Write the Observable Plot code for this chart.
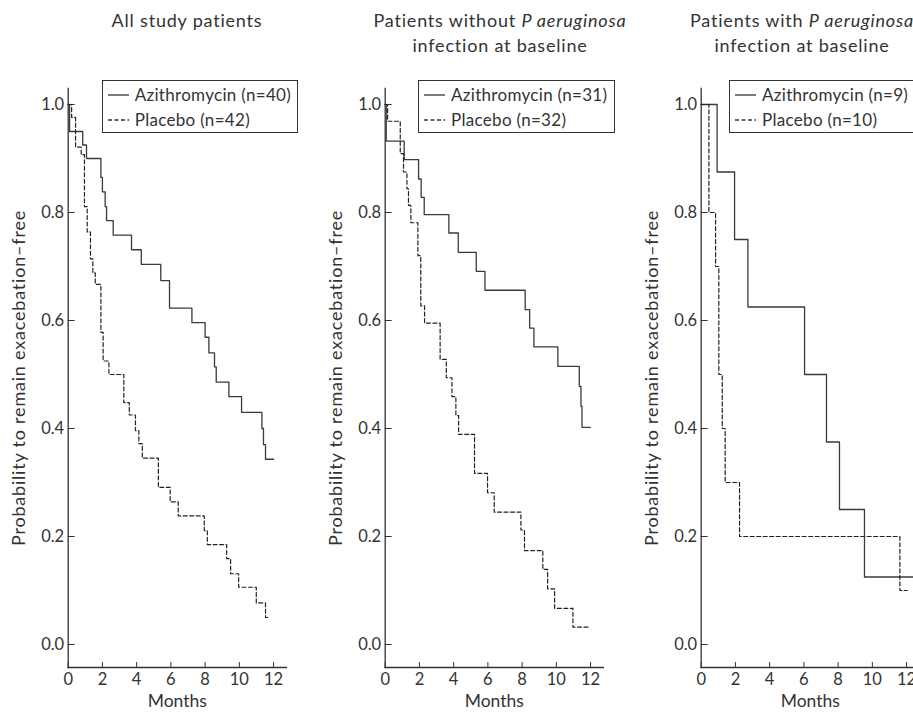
<!DOCTYPE html>
<html><head><meta charset="utf-8">
<script src="https://cdn.jsdelivr.net/npm/d3@7"></script>
<script src="https://cdn.jsdelivr.net/npm/@observablehq/plot@0.6"></script>
<style>
html,body{margin:0;padding:0;background:#fff;overflow:hidden}
#wrap{position:relative;width:913px;height:712px;overflow:hidden;font-family:Lato,"Noto Sans",sans-serif;color:#333}
.panel{position:absolute;top:70px}
.title{position:absolute;top:8px;width:360px;text-align:center;font-size:18px;letter-spacing:0.8px;line-height:25px;white-space:nowrap}
.legend{position:absolute;top:80px;height:51px;border:1px solid #333;background:#fff;font-size:17px;letter-spacing:0.3px;white-space:nowrap;box-sizing:content-box}
.legend .row{position:absolute;left:0;height:25px;line-height:25px}
.legend svg{position:absolute;left:5px;top:12px}
.legend span{position:absolute;left:32px;top:0}
</style></head>
<body><div id="wrap"></div>
<script>
// ---- data ----
const titleLine1 = ["All study patients", "Patients without ", "Patients with "];
const titleItalic = ["", "P aeruginosa", "P aeruginosa"];
const titleLine2 = ["", "infection at baseline", "infection at baseline"];
const seriesNames = ["Azithromycin", "Placebo"];
const aziN = [40, 31, 9];
const plaN = [42, 32, 10];
const yLabel = "Probability to remain exacebation–free";
const xLabel = "Months";
const xTicks = [0, 2, 4, 6, 8, 10, 12];
const yTicks = [0, 0.2, 0.4, 0.6, 0.8, 1.0];

const p1AziMonths = [0,0.08,0.85,1.07,1.91,2.0,2.16,2.24,2.63,3.70,4.27,5.41,5.92,7.23,8.0,8.22,8.55,8.65,9.39,10.13,11.32,11.41,11.53,12.0];
const p1AziSurv   = [1,0.95,0.925,0.9,0.865,0.838,0.811,0.785,0.758,0.731,0.704,0.674,0.623,0.596,0.569,0.54,0.514,0.486,0.459,0.43,0.40,0.37,0.343,0.343];
const p1PlaMonths = [0,0.2,0.43,0.76,0.95,1.11,1.30,1.44,1.58,1.91,2.04,2.38,3.25,3.57,3.93,4.13,4.33,5.27,5.96,6.43,7.95,8.13,9.26,9.49,9.96,10.99,11.53,11.78];
const p1PlaSurv   = [1,0.976,0.921,0.907,0.811,0.764,0.714,0.688,0.667,0.578,0.525,0.50,0.448,0.425,0.396,0.372,0.345,0.291,0.264,0.238,0.211,0.185,0.159,0.131,0.106,0.077,0.05,0.05];

const p2AziMonths = [0,0.06,1.11,1.95,2.10,2.28,3.72,4.27,5.32,5.83,8.18,8.44,8.69,10.09,11.34,11.44,11.50,11.98];
const p2AziSurv   = [1,0.932,0.898,0.862,0.828,0.796,0.762,0.726,0.691,0.656,0.62,0.586,0.551,0.515,0.478,0.441,0.402,0.402];
const p2PlaMonths = [0,0.14,0.88,1.07,1.27,1.36,1.50,1.91,2.08,2.30,3.21,3.57,3.90,4.13,4.29,5.22,5.98,6.37,7.93,8.14,9.21,9.49,9.90,10.97,11.98];
const p2PlaSurv   = [1,0.969,0.909,0.875,0.844,0.813,0.781,0.72,0.627,0.595,0.528,0.494,0.459,0.424,0.389,0.317,0.281,0.245,0.212,0.174,0.139,0.103,0.067,0.032,0.032];

const p3AziMonths = [0,0.93,1.95,2.73,6.04,7.32,8.08,9.54,12.4];
const p3AziSurv   = [1,0.875,0.75,0.625,0.5,0.375,0.25,0.125,0.125];
const p3PlaMonths = [0,0.45,0.84,1.03,1.23,1.40,2.24,11.61,12.04];
const p3PlaSurv   = [1,0.8,0.7,0.5,0.4,0.3,0.2,0.1,0.1];

// ---- layout ----
const panelLeft = [0, 317.3, 633];
const titleCenter = [187, 500, 802];
const legendLeft = [101.7, 418, 729];
const legendWidth = [194, 195, 200];
const ink = "#333";

const rows = (m, s) => m.map((d, i) => ({m: d, s: s[i]}));
const series = [
  [rows(p1AziMonths, p1AziSurv), rows(p1PlaMonths, p1PlaSurv)],
  [rows(p2AziMonths, p2AziSurv), rows(p2PlaMonths, p2PlaSurv)],
  [rows(p3AziMonths, p3AziSurv), rows(p3PlaMonths, p3PlaSurv)]
];

const wrap = document.getElementById("wrap");

series.forEach(([azi, pla], k) => {
  const chart = Plot.plot({
    width: 317, height: 642,
    marginLeft: 67.7, marginRight: 31.1, marginTop: 18, marginBottom: 45,
    style: {fontFamily: "Lato, 'Noto Sans', sans-serif", fontSize: "16px", color: ink, background: "transparent", overflow: "visible"},
    x: {domain: [0, 12.75]},
    y: {domain: [-0.0426, 1.0296]},
    marks: [
      Plot.axisY({ticks: yTicks, tickSize: -7, tickPadding: 11, tickFormat: d3.format(".1f"), label: null, stroke: ink, fill: ink, fontSize: 16.5}),
      Plot.axisX({ticks: xTicks, tickSize: -5, tickPadding: 11, tickFormat: d3.format("d"), label: null, stroke: ink, fill: ink, fontSize: 16.5}),
      Plot.frame({anchor: "left", stroke: ink, strokeWidth: 1.3}),
      Plot.frame({anchor: "bottom", stroke: ink, strokeWidth: 1.3}),
      Plot.text([yLabel], {text: d => d, frameAnchor: "left", textAnchor: "middle", lineAnchor: "middle", dx: -49, rotate: -90, fontSize: 18, fill: ink}),
      Plot.text([xLabel], {text: d => d, frameAnchor: "bottom", textAnchor: "middle", lineAnchor: "middle", dy: 34, fontSize: 17.5, fill: ink}),
      Plot.line(azi, {x: "m", y: "s", curve: "step-after", stroke: "#3a3a3a", strokeWidth: 1.3}),
      Plot.line(pla, {x: "m", y: "s", curve: "step-after", stroke: "#222", strokeWidth: 1.2, strokeDasharray: "4,2.5"})
    ]
  });
  chart.classList.add("panel");
  chart.style.left = panelLeft[k] + "px";
  chart.querySelectorAll("text").forEach(el => {
    if (el.textContent === yLabel) el.setAttribute("letter-spacing", "0.8");
  });
  wrap.appendChild(chart);

  const t = document.createElement("div");
  t.className = "title";
  t.style.left = (titleCenter[k] - 180) + "px";
  t.innerHTML = titleLine1[k] + (titleItalic[k] ? "<i>" + titleItalic[k] + "</i>" : "") +
    (titleLine2[k] ? "<br>" + titleLine2[k] : "");
  wrap.appendChild(t);

  const lg = document.createElement("div");
  lg.className = "legend";
  lg.style.left = legendLeft[k] + "px";
  lg.style.width = legendWidth[k] + "px";
  const labels = [`${seriesNames[0]} (n=${aziN[k]})`, `${seriesNames[1]} (n=${plaN[k]})`];
  const dashes = ["none", "4,2.5"];
  labels.forEach((lab, j) => {
    const r = document.createElement("div");
    r.className = "row";
    r.style.top = (1 + j * 25) + "px";
    r.style.width = "100%";
    r.innerHTML = `<svg width="22" height="2" style="overflow:visible"><line x1="0" x2="21" y1="1" y2="1" stroke="${ink}" stroke-width="1.3" stroke-dasharray="${dashes[j]}"/></svg><span>${lab}</span>`;
    lg.appendChild(r);
  });
  wrap.appendChild(lg);
});
</script>
</body></html>
